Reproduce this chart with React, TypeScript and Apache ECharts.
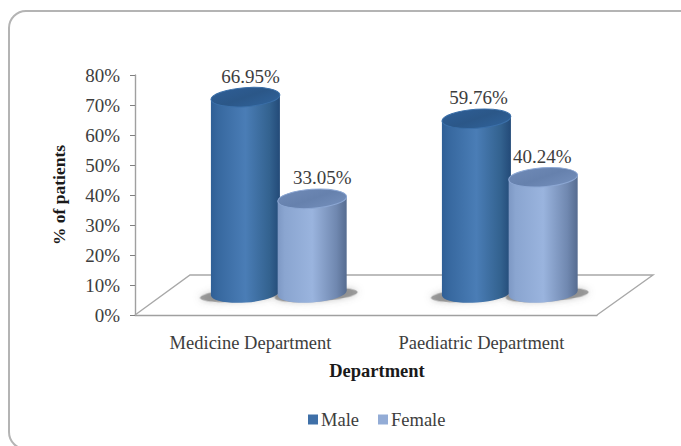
import React, { useEffect, useRef } from "react";
import * as echarts from "echarts";

const categories = ["Medicine Department", "Paediatric Department"];
const maleValues = [66.95, 59.76];
const femaleValues = [33.05, 40.24];
const yTicks = [0, 80];
const seriesNames = ["Male", "Female"];

const FONT = '"Liberation Serif", "Times New Roman", serif';
const TEXT = "#3d3d3d";

const grad = (stops: [number, string][], x2 = 1, y2 = 0) =>
  new echarts.graphic.LinearGradient(0, 0, x2, y2, stops.map(([offset, color]) => ({ offset, color })));

const malePalette = {
  body: () => grad([[0, "#2f5f96"], [0.1, "#37689f"], [0.5, "#4a7db6"], [0.85, "#33628f"], [1, "#234a78"]]),
  top: () => grad([[0, "#2e5e96"], [0.5, "#2b5788"], [1, "#30639b"]], 1, 1),
  rim: "#3b6fa8",
};
const femalePalette = {
  body: () => grad([[0, "#7d98c4"], [0.1, "#8aa5d0"], [0.5, "#9ab4de"], [0.85, "#7088b0"], [1, "#566c90"]]),
  top: () => grad([[0, "#6f8ab7"], [0.5, "#6681ad"], [1, "#7590bd"]], 1, 1),
  rim: "#8ca7d3",
};

const cylinder = (palette: typeof malePalette, dx: number, rxBody: number, labelShift: number[]) => (params: any, api: any) => {
  const cat = api.value(0);
  const value = api.value(1);
  const [cx0, axisY] = api.coord([cat, 0]);
  const valueH = axisY - api.coord([cat, value])[1];
  const band = api.size([1, 0])[0];
  const cx = cx0 + band * dx;
  const topY = axisY - 17 - valueH;
  const baseY = axisY - 22;
  const ry = 9.5;
  const tilt = 0.07;
  const dyEdge = rxBody * Math.sin(tilt);
  return {
    type: "group",
    children: [
      {
        type: "ellipse",
        x: cx + (dx < 0.02 ? -4 : 4),
        y: baseY + 2,
        rotation: tilt,
        shape: { cx: 0, cy: 0, rx: rxBody + 7, ry: ry - 3 },
        style: { fill: "rgba(90,90,90,0.55)", shadowBlur: 7, shadowColor: "rgba(90,90,90,0.6)" },
      },
      {
        type: "ellipse",
        x: cx,
        y: baseY,
        rotation: tilt,
        shape: { cx: 0, cy: 0, rx: rxBody, ry },
        style: { fill: palette.body() },
      },
      {
        type: "polygon",
        shape: {
          points: [
            [cx - rxBody, topY + dyEdge],
            [cx + rxBody, topY - dyEdge],
            [cx + rxBody, baseY - dyEdge],
            [cx - rxBody, baseY + dyEdge],
          ],
        },
        style: { fill: palette.body() },
      },
      {
        type: "ellipse",
        x: cx,
        y: topY,
        rotation: tilt,
        shape: { cx: 0, cy: 0, rx: rxBody, ry },
        style: { fill: palette.top(), stroke: palette.rim, lineWidth: 1 },
      },
      {
        type: "text",
        style: {
          text: value.toFixed(2) + "%",
          x: cx + 4 + labelShift[cat],
          y: topY - 21,
          align: "center",
          verticalAlign: "middle",
          fill: TEXT,
          font: `19px ${FONT}`,
        },
      },
    ],
  };
};

export default function App() {
  const ref = useRef<HTMLDivElement>(null);
  useEffect(() => {
    const chart = echarts.init(ref.current!, undefined, { renderer: "svg" });
    chart.setOption({
      animation: false,
      backgroundColor: "#ffffff",
      textStyle: { fontFamily: FONT },
      grid: { left: 135, right: 84, top: 75, bottom: 131 },
      legend: {
        data: seriesNames,
        bottom: 12,
        left: 303,
        itemWidth: 10,
        itemHeight: 10,
        itemGap: 19,
        selectedMode: false,
        icon: "rect",
        textStyle: { fontFamily: FONT, fontSize: 18.5, color: TEXT, padding: [0, 0, 0, -2] },
      },
      graphic: [
        {
          type: "rect",
          z: 0,
          silent: true,
          shape: { x: 9, y: 11, width: 720, height: 438, r: 17 },
          style: { fill: "#ffffff", stroke: "#b4b4b4", lineWidth: 2 },
        },
        {
          type: "polyline",
          z: 1,
          silent: true,
          shape: { points: [[135, 315], [190, 275], [653, 275], [597, 315]] },
          style: { fill: "none", stroke: "#a8a8a8", lineWidth: 1.4 },
        },
      ],
      xAxis: {
        type: "category",
        data: categories,
        name: "Department",
        nameLocation: "middle",
        nameGap: 46,
        nameTextStyle: { fontFamily: FONT, fontSize: 18.5, fontWeight: "bold", color: "#1a1a1a", padding: [0, 0, 0, 22] },
        axisLine: { lineStyle: { color: "#a0a0a0", width: 1.4 } },
        axisTick: { length: 5, lineStyle: { color: "#808080" } },
        axisLabel: { fontFamily: FONT, fontSize: 18.5, color: TEXT, margin: 18 },
      },
      yAxis: {
        type: "value",
        min: yTicks[0],
        max: yTicks[1],
        interval: 10,
        name: "% of patients",
        nameLocation: "middle",
        nameGap: 67,
        nameTextStyle: { fontFamily: FONT, fontSize: 17.5, fontWeight: "bold", color: "#1a1a1a" },
        splitLine: { show: false },
        axisLine: { show: true, lineStyle: { color: "#a0a0a0", width: 1.4 } },
        axisTick: { show: true, length: 5, lineStyle: { color: "#808080" } },
        axisLabel: { fontFamily: FONT, fontSize: 19, color: TEXT, margin: 15, formatter: "{value}%" },
      },
      series: [
        {
          name: seriesNames[0],
          type: "custom",
          z: 3,
          clip: false,
          itemStyle: { color: "#3f70a8" },
          encode: { x: 0, y: 1 },
          data: maleValues.map((v, i) => [i, v]),
          renderItem: cylinder(malePalette, -0.022, 34.5, [1, -2]),
        },
        {
          name: seriesNames[1],
          type: "custom",
          z: 4,
          clip: false,
          itemStyle: { color: "#93acd6" },
          encode: { x: 0, y: 1 },
          data: femaleValues.map((v, i) => [i, v]),
          renderItem: cylinder(femalePalette, 0.267, 34.5, [6, -5]),
        },
      ],
    });
    return () => chart.dispose();
  }, []);
  return <div ref={ref} style={{ position: "fixed", left: 0, top: 0, width: 681, height: 446 }} />;
}
